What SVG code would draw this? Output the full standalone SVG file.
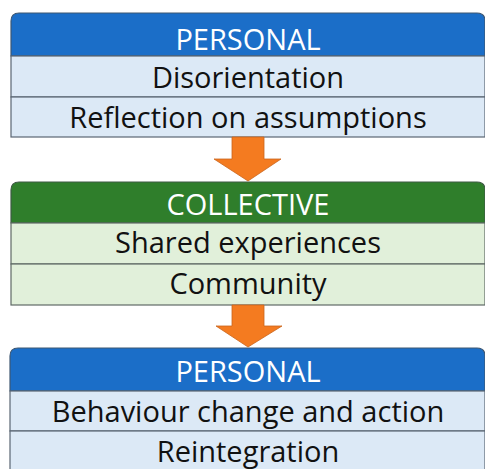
<svg xmlns="http://www.w3.org/2000/svg" width="485" height="469" viewBox="0 0 485 469">
  <style>
    .hdr-blue { fill: #1b6ec8; stroke: #3f5873; stroke-width: 1.2; }
    .hdr-green { fill: #2f7e2b; stroke: #3f5a45; stroke-width: 1.2; }
    .row-blue { fill: #dce9f6; stroke: #5a6673; stroke-width: 1.2; }
    .row-green { fill: #e1f0da; stroke: #5f6a66; stroke-width: 1.2; }
    .arrow { fill: #f47b20; stroke: #c9651c; stroke-width: 0.8; }
    text { font-family: "Open Sans", Lato, "Liberation Sans", sans-serif; font-size: 29px; text-anchor: middle; }
    .title { fill: #ffffff; }
    .item { fill: #111111; }
  </style>

  <g id="personal-1">
    <path class="hdr-blue" d="M11,56 V21 Q11,13 19,13 H477 Q485,13 485,21 V56 Z"/>
    <rect class="row-blue" x="11" y="56" width="474" height="41"/>
    <rect class="row-blue" x="11" y="97" width="474" height="40"/>
    <text class="title" x="248" y="50">PERSONAL</text>
    <text class="item" x="248" y="88">Disorientation</text>
    <text class="item" x="248" y="128">Reflection on assumptions</text>
  </g>

  <g id="collective">
    <path class="hdr-green" d="M11,223 V190 Q11,182 19,182 H477 Q485,182 485,190 V223 Z"/>
    <rect class="row-green" x="11" y="223" width="474" height="41"/>
    <rect class="row-green" x="11" y="264" width="474" height="41"/>
    <text class="title" x="248" y="215">COLLECTIVE</text>
    <text class="item" x="248" y="253">Shared experiences</text>
    <text class="item" x="248" y="294">Community</text>
  </g>

  <g id="personal-2">
    <path class="hdr-blue" d="M10,391 V356 Q10,348 18,348 H477 Q485,348 485,356 V391 Z"/>
    <rect class="row-blue" x="10" y="391" width="475" height="40"/>
    <rect class="row-blue" x="10" y="431" width="475" height="41"/>
    <text class="title" x="248" y="382">PERSONAL</text>
    <text class="item" x="248" y="422">Behaviour change and action</text>
    <text class="item" x="248" y="462">Reintegration</text>
  </g>

  <g id="connectors">
    <path class="arrow" d="M232,137 H264 V159 H281 L248,181 L214,159 H232 Z"/>
    <path class="arrow" d="M232,305 H264 V326 H282 L248,347 L216,326 H232 Z"/>
  </g>
</svg>
